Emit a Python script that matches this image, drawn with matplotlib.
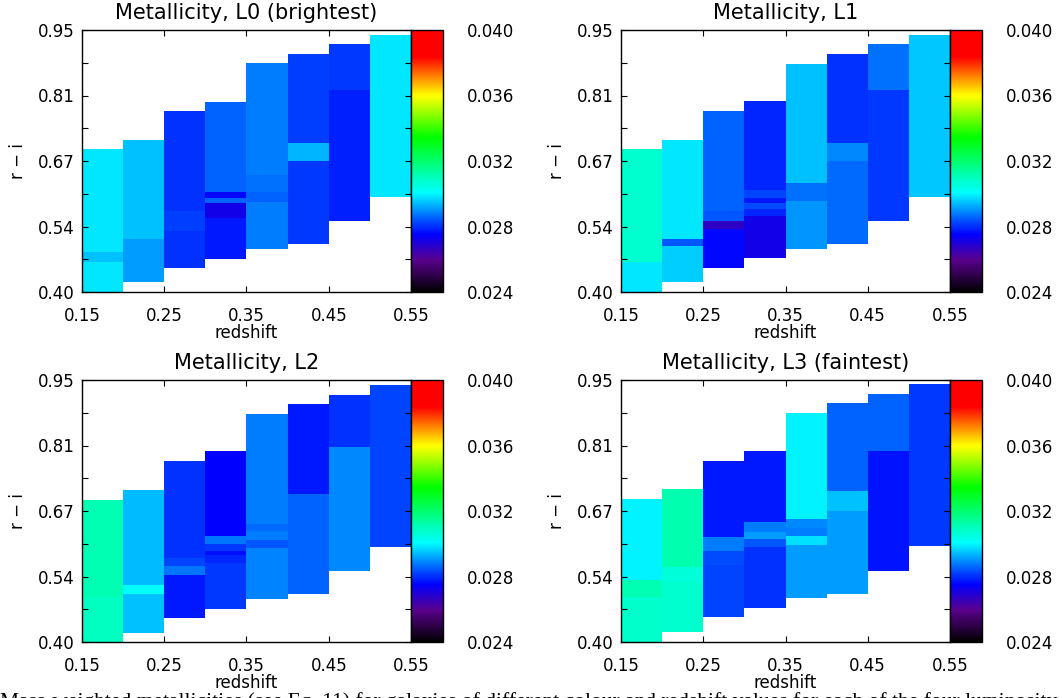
import numpy as np
import matplotlib
import matplotlib.pyplot as plt
from matplotlib.colors import LinearSegmentedColormap, Normalize

matplotlib.use('Agg')

# redshift bin edges (same for every panel)
Z_EDGES = [0.15, 0.20, 0.25, 0.30, 0.35, 0.40, 0.45, 0.50, 0.55]

# r-i band edges for each redshift column (bottom -> top) and metallicity per band
L0_EDGES = [[0.400, 0.464, 0.483, 0.700], [0.420, 0.512, 0.719],
            [0.450, 0.529, 0.569, 0.780], [0.469, 0.555, 0.586, 0.598, 0.610, 0.799],
            [0.490, 0.589, 0.610, 0.645, 0.881], [0.500, 0.675, 0.713, 0.900],
            [0.550, 0.824, 0.921], [0.599, 0.940]]
L0_METAL = [[0.02982, 0.02944, 0.02982], [0.02911, 0.02944],
            [0.02803, 0.02816, 0.02803], [0.0278, 0.0272, 0.0285, 0.0276, 0.0285],
            [0.0288, 0.0285, 0.02867, 0.0288], [0.02808, 0.02936, 0.02816],
            [0.02783, 0.02808], [0.02982]]

L1_EDGES = [[0.400, 0.464, 0.700], [0.420, 0.496, 0.512, 0.719],
            [0.450, 0.533, 0.550, 0.571, 0.780], [0.471, 0.559, 0.575, 0.586, 0.598, 0.615, 0.801],
            [0.490, 0.592, 0.628, 0.879], [0.500, 0.675, 0.713, 0.900],
            [0.550, 0.823, 0.921], [0.599, 0.940]]
L1_METAL = [[0.02987, 0.03075], [0.0296, 0.0284, 0.02982],
            [0.0276, 0.0267, 0.0284, 0.02854], [0.0272, 0.0279, 0.0283, 0.0278, 0.0282, 0.0279],
            [0.0290, 0.02867, 0.02944], [0.0286, 0.0289, 0.0280],
            [0.0281, 0.02867], [0.02952]]

L2_EDGES = [[0.400, 0.494, 0.699], [0.419, 0.500, 0.519, 0.720],
            [0.450, 0.540, 0.559, 0.577, 0.779], [0.469, 0.566, 0.582, 0.592, 0.605, 0.622, 0.800],
            [0.490, 0.597, 0.615, 0.632, 0.648, 0.879], [0.500, 0.710, 0.900],
            [0.549, 0.810, 0.919], [0.599, 0.940]]
L2_METAL = [[0.0309, 0.0311], [0.0295, 0.0301, 0.0294],
            [0.0278, 0.0287, 0.0282, 0.0280], [0.0281, 0.0279, 0.02765, 0.0281, 0.0287, 0.02752],
            [0.02885, 0.0284, 0.0288, 0.0286, 0.0288], [0.0285, 0.0278],
            [0.0289, 0.0280], [0.0282]]

L3_EDGES = [[0.400, 0.494, 0.531, 0.700], [0.420, 0.527, 0.557, 0.722],
            [0.452, 0.562, 0.590, 0.621, 0.780], [0.471, 0.600, 0.617, 0.631, 0.652, 0.801],
            [0.492, 0.604, 0.623, 0.640, 0.659, 0.881], [0.500, 0.675, 0.717, 0.902],
            [0.550, 0.801, 0.921], [0.601, 0.942]]
L3_METAL = [[0.0308, 0.0311, 0.02995], [0.03075, 0.03058, 0.03116],
            [0.0282, 0.0283, 0.0288, 0.0278], [0.0280, 0.0284, 0.0291, 0.0288, 0.0278],
            [0.0291, 0.0298, 0.0288, 0.0289, 0.0300], [0.0291, 0.0295, 0.0285],
            [0.0277, 0.0285], [0.0281]]

TITLES = ['Metallicity, L0 (brightest)', 'Metallicity, L1',
          'Metallicity, L2', 'Metallicity, L3 (faintest)']

Y_TICKS = [0.40, 0.5375, 0.675, 0.8125, 0.95]
Y_TICK_LABELS = ['0.40', '0.54', '0.67', '0.81', '0.95']
X_TICKS = [0.15, 0.25, 0.35, 0.45, 0.55]
X_TICK_LABELS = ['0.15', '0.25', '0.35', '0.45', '0.55']
CB_TICKS = [0.024, 0.028, 0.032, 0.036, 0.040]

CAPTION = ('Mass-weighted metallicities (see Eq. 11) for galaxies of different colour and '
           'redshift values for each of the four luminosity bins.')

# IDL-like rainbow: black -> purple -> blue -> cyan -> green -> yellow -> red
rainbow = LinearSegmentedColormap.from_list('idl_rainbow', [
    (0.00, (0.0, 0.0, 0.0)),
    (0.12, (0.35, 0.0, 0.55)),
    (0.22, (0.0, 0.0, 1.0)),
    (0.38, (0.0, 1.0, 1.0)),
    (0.59, (0.0, 1.0, 0.0)),
    (0.75, (1.0, 1.0, 0.0)),
    (0.90, (1.0, 0.0, 0.0)),
    (1.00, (1.0, 0.0, 0.0)),
])
norm = Normalize(vmin=0.024, vmax=0.040)

plt.rcParams['font.family'] = ['DejaVu Sans']
plt.rcParams['font.size'] = 12

fig = plt.figure(figsize=(10.62, 6.98), dpi=100)

W, H = 1062, 698
panels = [
    (82, 30, L0_EDGES, L0_METAL, TITLES[0]),
    (621, 30, L1_EDGES, L1_METAL, TITLES[1]),
    (82, 380, L2_EDGES, L2_METAL, TITLES[2]),
    (621, 380, L3_EDGES, L3_METAL, TITLES[3]),
]
ax_w, ax_h, cb_w = 329, 262, 32

for left, top, edges, metal, title in panels:
    ax = fig.add_axes([left / W, 1 - (top + ax_h) / H, ax_w / W, ax_h / H])
    for i, (col_edges, col_vals) in enumerate(zip(edges, metal)):
        ax.pcolormesh([Z_EDGES[i], Z_EDGES[i + 1]], col_edges,
                      np.array(col_vals)[:, None], cmap=rainbow, norm=norm,
                      shading='flat', edgecolors='none', antialiased=False)
    ax.set_xlim(0.15, 0.55)
    ax.set_ylim(0.40, 0.95)
    ax.set_xticks(X_TICKS)
    ax.set_xticklabels(X_TICK_LABELS)
    ax.set_yticks(Y_TICKS)
    ax.set_yticklabels(Y_TICK_LABELS)
    ax.set_yticks([0.46875, 0.60625, 0.74375, 0.88125], minor=True)
    ax.tick_params(which='both', direction='in', top=True, right=True,
                   length=4, width=0.8, color='black')
    ax.tick_params(axis='x', pad=11)
    ax.tick_params(axis='y', pad=5)
    for sp in ax.spines.values():
        sp.set_linewidth(1.0)
    ax.set_xlabel('redshift', labelpad=-1)
    ax.set_ylabel('r \u2212 i', labelpad=8)
    ax.set_title(title, pad=8, fontsize=15)

    cax = fig.add_axes([(left + ax_w) / W, 1 - (top + ax_h) / H, cb_w / W, ax_h / H])
    sm = matplotlib.cm.ScalarMappable(norm=norm, cmap=rainbow)
    cb = fig.colorbar(sm, cax=cax)
    cb.set_ticks(CB_TICKS)
    cb.set_ticklabels(['%.3f' % t for t in CB_TICKS])
    cb.ax.tick_params(length=0, pad=17)
    cb.outline.set_linewidth(1.0)

# caption of the figure, cut by the lower edge as in the source
fig.text(0.0, 1 - 707 / H, CAPTION, ha='left', va='baseline', fontsize=15.5,
         family='Liberation Serif')

fig.savefig('out.png', dpi=100)
